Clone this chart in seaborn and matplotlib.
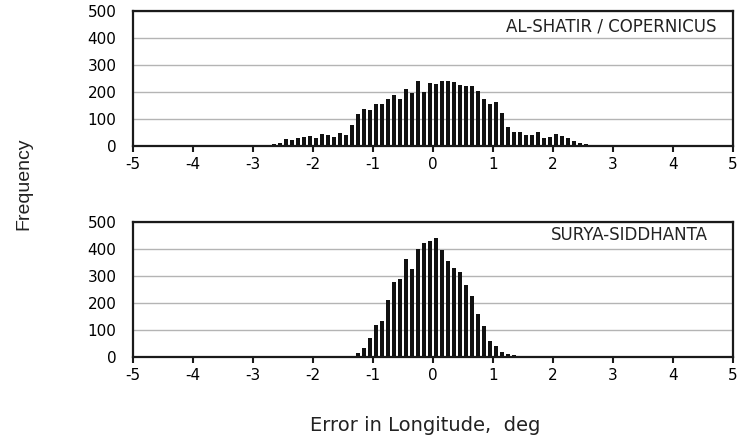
### Error-in-longitude histograms ###

import numpy as np
import pandas as pd
import matplotlib.pyplot as plt
import seaborn as sns

# bin centres (deg) and counts
shatir_centres = [-2.75, -2.65, -2.55, -2.45, -2.35, -2.25, -2.15, -2.05, -1.95, -1.85,
                  -1.75, -1.65, -1.55, -1.45, -1.35, -1.25, -1.15, -1.05, -0.95, -0.85,
                  -0.75, -0.65, -0.55, -0.45, -0.35, -0.25, -0.15, -0.05, 0.05, 0.15,
                  0.25, 0.35, 0.45, 0.55, 0.65, 0.75, 0.85, 0.95, 1.05, 1.15,
                  1.25, 1.35, 1.45, 1.55, 1.65, 1.75, 1.85, 1.95, 2.05, 2.15,
                  2.25, 2.35, 2.45, 2.55]
shatir_counts = [2, 7, 10, 23, 20, 30, 31, 37, 30, 42,
                 40, 31, 48, 40, 77, 116, 136, 133, 156, 156,
                 174, 188, 172, 210, 196, 238, 199, 231, 227, 240,
                 240, 235, 225, 222, 222, 204, 172, 154, 163, 122,
                 70, 52, 52, 40, 40, 52, 30, 31, 42, 36,
                 27, 19, 10, 5]

surya_centres = [-1.35, -1.25, -1.15, -1.05, -0.95, -0.85, -0.75, -0.65, -0.55, -0.45,
                 -0.35, -0.25, -0.15, -0.05, 0.05, 0.15, 0.25, 0.35, 0.45, 0.55,
                 0.65, 0.75, 0.85, 0.95, 1.05, 1.15, 1.25, 1.35]
surya_counts = [4, 12, 33, 68, 117, 134, 211, 275, 286, 363,
                325, 400, 422, 427, 440, 395, 353, 329, 315, 265,
                224, 158, 113, 57, 39, 19, 9, 5]

panel_titles = ["AL-SHATIR / COPERNICUS", "SURYA-SIDDHANTA"]
x_ticks = [-5, -4, -3, -2, -1, 0, 1, 2, 3, 4, 5]
y_ticks = [0, 100, 200, 300, 400, 500]

sns.set_theme(style="white")
plt.rcParams["font.family"] = ["DejaVu Sans"]
plt.rcParams["axes.unicode_minus"] = False

fig = plt.figure(figsize=(7.38, 4.42), dpi=100)
ax1 = fig.add_axes([0.1802, 0.6704, 0.8130, 0.3054])
ax2 = fig.add_axes([0.1802, 0.1930, 0.8130, 0.3054])

panels = [
    (ax1, shatir_centres, shatir_counts, panel_titles[0], 0.972, 0.88),
    (ax2, surya_centres, surya_counts, panel_titles[1], 0.958, 0.90),
]

for ax, centres, counts, title, tx, ty in panels:
    df = pd.DataFrame({"err": centres, "freq": counts})
    sns.barplot(data=df, x="err", y="freq", native_scale=True, width=0.6,
                color="#111111", saturation=1, errorbar=None, linewidth=0, ax=ax)
    ax.set_xlim(-5, 5)
    ax.set_ylim(0, 500)
    ax.set_xticks(x_ticks)
    ax.set_xticklabels([str(t) for t in x_ticks])
    ax.set_yticks(y_ticks)
    ax.yaxis.grid(True, color="#b4b4b4", linewidth=1)
    ax.xaxis.grid(False)
    ax.set_axisbelow(True)
    for sp in ax.spines.values():
        sp.set_visible(True)
        sp.set_color("#1a1a1a")
        sp.set_linewidth(1.6)
    ax.tick_params(axis="x", bottom=True, direction="out", length=4, width=1.5,
                   color="#1a1a1a", pad=4, labelsize=11, labelcolor="#000000")
    ax.tick_params(axis="y", left=False, length=0, pad=12, labelsize=11,
                   labelcolor="#000000")
    ax.set_xlabel("")
    ax.set_ylabel("")
    ax.text(tx, ty, title, transform=ax.transAxes, ha="right", va="center",
            fontsize=12, color="#222222")

fig.text(0.0325, 0.584, "Frequency", rotation=90, ha="center", va="center",
         fontsize=14, color="#222222", family=["Liberation Sans Narrow", "Liberation Sans", "DejaVu Sans"])
fig.text(0.576, 0.038, "Error in Longitude,  deg", ha="center", va="center",
         fontsize=14, color="#222222")

plt.savefig("out.png", dpi=100)
